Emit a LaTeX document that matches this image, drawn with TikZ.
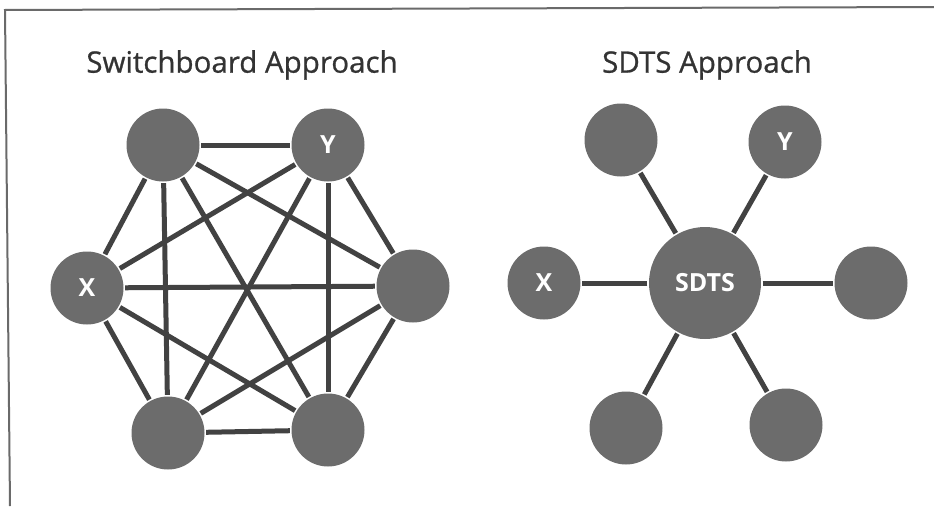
\documentclass[tikz,border=0pt]{standalone}
\usepackage{fontspec}
\setmainfont{Open Sans}
\newfontfamily\ttlfont[FakeBold=0.8]{Open Sans}
\begin{document}
\begin{tikzpicture}[x=1pt,y=-1pt,
  nd/.style={circle,fill=nodegray,minimum size=73pt,inner sep=0pt,text=white,font=\bfseries\fontsize{25}{27}\selectfont},
  hub/.style={nd,minimum size=112pt},
  ln/.style={draw=linegray,line width=5pt,shorten <=1.5pt,shorten >=1.5pt},
  ttl/.style={text=titlegray,font=\ttlfont\fontsize{29.5}{32}\selectfont,inner sep=0pt}]
\definecolor{nodegray}{HTML}{6C6C6C}
\definecolor{linegray}{HTML}{424242}
\definecolor{titlegray}{HTML}{333333}
\definecolor{framegray}{HTML}{6A6A6A}
\useasboundingbox (0,0) rectangle (934,506);
% frame
\coordinate (f1) at (5,10);
\coordinate (f2) at (934,7);
\coordinate (f3) at (10,506);
\draw[framegray,line width=2pt] (f2) -- (f1) -- (f3);
% titles
\node[ttl] (t1) at (242,65) {Switchboard Approach};
\node[ttl] (t2) at (707,65) {SDTS Approach};
% switchboard nodes
\node[nd] (a) at (163,145) {};
\node[nd] (y) at (328,145) {Y};
\node[nd] (x) at (87,288) {X};
\node[nd] (r) at (413,286) {};
\node[nd] (bl) at (168,433) {};
\node[nd] (br) at (328,430) {};
\foreach \u/\v in {a/y,a/x,a/r,a/bl,a/br,y/x,y/r,y/bl,y/br,x/r,x/bl,x/br,r/bl,r/br,bl/br}
  \draw[ln] (\u) -- (\v);
% SDTS nodes
\node[hub] (s) at (705,283) {SDTS};
\node[nd] (s1) at (621,140) {};
\node[nd] (sy) at (785,142) {Y};
\node[nd] (sx) at (544,283) {X};
\node[nd] (sr) at (871,283) {};
\node[nd] (s4) at (626,428) {};
\node[nd] (s5) at (786,425) {};
\foreach \v in {s1,sy,sx,sr,s4,s5}
  \draw[ln] (s) -- (\v);
\end{tikzpicture}
\end{document}
